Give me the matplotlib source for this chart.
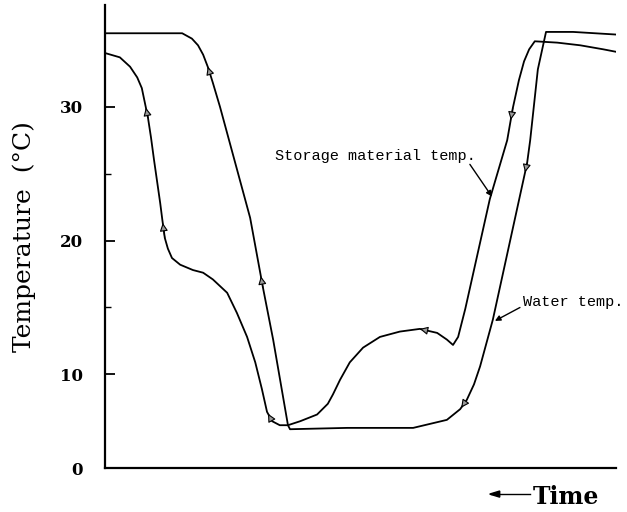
import numpy as np
import matplotlib.pyplot as plt

# storage material temperature, time in arbitrary units (0-100), temp in deg C
store_t = [0.2, 2.9, 4.9, 6.3, 7.2, 7.8, 8.4, 9.0, 9.6, 10.2, 10.8, 11.2, 11.7, 12.3, 13.1,
           14.7, 17.2, 19.2, 21.1, 23.9, 25.8, 27.8, 29.4, 30.7, 31.7, 32.7, 34.2, 35.8,
           38.2, 41.5, 43.6, 44.6, 46.0, 47.9, 50.5, 53.8, 57.7, 61.6, 65.0, 66.9,
           68.1, 69.1, 70.5, 75.3, 78.7, 79.8, 81.0, 82.0, 83.0, 84.1, 88.5, 93.0,
           97.5, 100.2]
store_T = [34.0, 33.7, 33.0, 32.2, 31.4, 30.3, 29.2, 27.7, 26.0, 24.4, 22.8, 21.6, 20.2, 19.4, 18.7,
           18.2, 17.8, 17.6, 17.1, 16.1, 14.6, 12.8, 10.9, 8.9, 7.2, 6.5, 6.2, 6.2,
           6.5, 7.0, 7.8, 8.5, 9.6, 10.9, 12.0, 12.8, 13.2, 13.4, 13.1, 12.6,
           12.2, 12.8, 14.9, 23.1, 27.5, 29.9, 32.0, 33.4, 34.3, 34.9, 34.8, 34.6,
           34.3, 34.1]

# water temperature
water_t = [0.2, 15.1, 17.0, 18.2, 19.2, 20.2, 21.1, 22.5, 28.4, 30.9, 32.9, 35.8,
           36.2, 47.4, 60.3, 63.6, 66.9, 69.5, 70.8, 72.2, 73.4, 75.9, 82.6, 83.2, 84.7,
           86.3, 91.6, 100.2]
water_T = [35.5, 35.5, 35.1, 34.6, 33.9, 32.9, 31.8, 30.0, 21.7, 16.5, 12.6, 6.2,
           5.9, 6.0, 6.0, 6.3, 6.6, 7.4, 8.1, 9.25, 10.6, 14.1, 25.8, 27.5, 32.8,
           35.6, 35.6, 35.4]

# where the direction arrows sit (time values)
store_arrows = [8.4, 11.7, 32.3, 62.0, 79.8]
water_arrows = [20.5, 30.9, 70.1, 82.6]

ytick_pos = [3, 10, 20, 30]
ytick_lab = ['0', '10', '20', '30']

fig = plt.figure(figsize=(6.27, 5.12), dpi=100)
ax = fig.add_axes([0.1675, 0.0859, 0.815, 0.904])

ax.plot(store_t, store_T, color='black', lw=1.3, solid_joinstyle='round')
ax.plot(water_t, water_T, color='black', lw=1.3, solid_joinstyle='round')


def add_arrows(tt, TT, where):
    for ta in where:
        tb = ta - 0.4
        ax.annotate('', xy=(tb, np.interp(tb, tt, TT)), xytext=(ta, np.interp(ta, tt, TT)),
                    arrowprops=dict(arrowstyle='-|>', mutation_scale=12, lw=0.8,
                                    fc='0.6', ec='black', shrinkA=0, shrinkB=0))


add_arrows(store_t, store_T, store_arrows)
add_arrows(water_t, water_T, water_arrows)

ax.set_xlim(0, 100)
ax.set_ylim(3, 37.6)
for s in ['top', 'right']:
    ax.spines[s].set_visible(False)
for s in ['left', 'bottom']:
    ax.spines[s].set_linewidth(1.6)
ax.set_xticks([])
ax.set_yticks(ytick_pos)
ax.set_yticklabels(ytick_lab, fontfamily='DejaVu Serif', fontweight='bold', fontsize=12)
ax.set_yticks([15, 25], minor=True)
ax.tick_params(axis='y', which='major', direction='in', length=7, width=1.3, pad=16)
ax.tick_params(axis='y', which='minor', direction='in', length=4, width=1.0)

ax.set_ylabel('Temperature  (°C)', fontfamily='DejaVu Serif', fontsize=18, labelpad=17)

mono = 'Liberation Mono'
ax.text(33.3, 26.3, 'Storage material temp.', fontfamily=mono, fontsize=11, va='center')
ax.annotate('', xy=(75.7, 23.3), xytext=(71.4, 25.7),
            arrowprops=dict(arrowstyle='-|>', lw=1.0, color='black',
                            mutation_scale=8, shrinkA=0, shrinkB=0))
ax.text(81.8, 15.4, 'Water temp.', fontfamily=mono, fontsize=11, va='center')
ax.annotate('', xy=(76.3, 14.0), xytext=(81.2, 15.0),
            arrowprops=dict(arrowstyle='-|>', lw=1.0, color='black',
                            mutation_scale=8, shrinkA=0, shrinkB=0))

fig.text(0.850, 0.03, 'Time', fontfamily='DejaVu Serif', fontweight='bold',
         fontsize=17, ha='left', va='center')
fig.add_artist(plt.Line2D([0.783, 0.845], [0.035, 0.035], color='black', lw=1.0))
fig.patches.append(plt.Polygon([[0.781, 0.035], [0.797, 0.041], [0.797, 0.029]],
                               closed=True, color='black', transform=fig.transFigure))

fig.savefig('out.png', dpi=100)
